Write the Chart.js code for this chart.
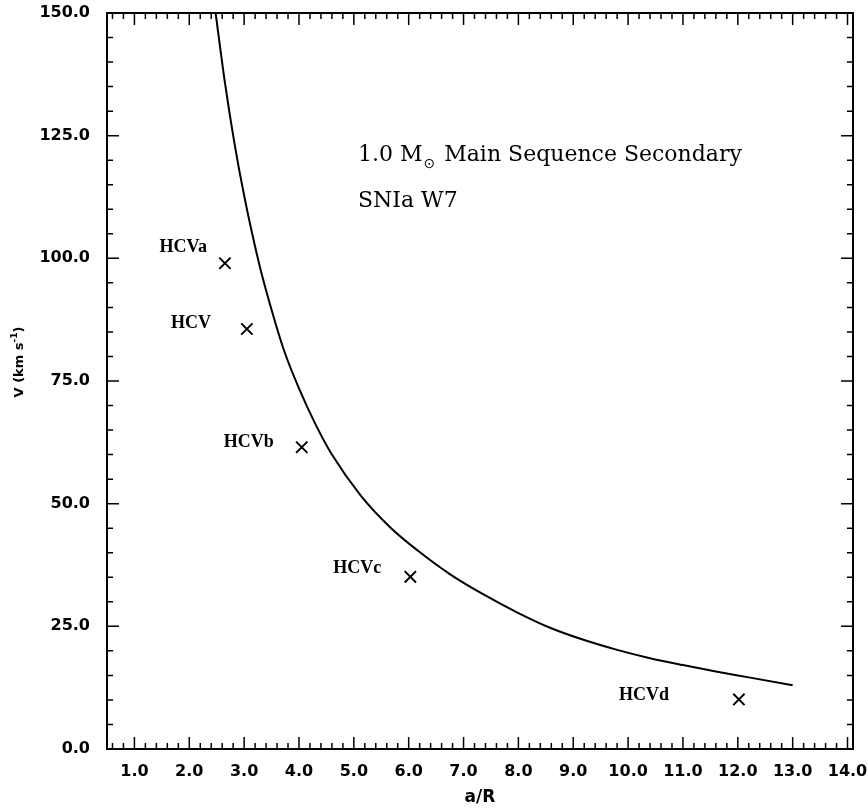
<!DOCTYPE html>
<html>
<head>
<meta charset="utf-8">
<script src="https://cdn.jsdelivr.net/npm/chart.js@4"></script>
<style>
  body { margin: 0; background: #fff; }
  #wrap { width: 868px; height: 808px; }
</style>
</head>
<body>
<div id="wrap"><canvas id="chart" width="868" height="808"></canvas></div>
<script>
// W7 model curve
const curveX = [2.48, 2.65, 2.82, 3.0, 3.28, 3.55, 3.75, 4.0, 4.3, 4.6, 5.13, 5.68, 6.17, 6.77, 7.38, 8.0, 8.6, 9.2, 9.8, 10.4, 11.0, 11.6, 12.2, 13.0];
const curveV = [150, 135.8, 123.7, 112.8, 98.6, 87.6, 80.5, 73.5, 66.2, 60.0, 51.6, 45.0, 40.4, 35.5, 31.4, 27.7, 24.6, 22.2, 20.2, 18.5, 17.1, 15.8, 14.6, 13.0];

// observed high velocity clouds
const hcvNames = ['HCVa', 'HCV', 'HCVb', 'HCVc', 'HCVd'];
const hcvX = [2.65, 3.05, 4.05, 6.03, 12.02];
const hcvV = [99.0, 85.6, 61.5, 35.1, 10.1];

const xTicks = [1, 2, 3, 4, 5, 6, 7, 8, 9, 10, 11, 12, 13, 14];
const yTicks = [0, 25, 50, 75, 100, 125, 150];

// label placement next to each marker (px, right edge of text)
const labelOffsets = [[-18, -16], [-36, -6], [-28, -5], [-29, -8], [-70, -4]];

const tickFont = { family: 'DejaVu Sans', weight: 'bold', size: 16 };

const framePlugin = {
  id: 'frame',
  afterDraw(chart) {
    const ctx = chart.ctx;
    const { left, right, top, bottom } = chart.chartArea;
    const xs = chart.scales.x, ys = chart.scales.y;
    ctx.save();
    ctx.strokeStyle = '#000';

    // inward ticks on all four sides
    ctx.lineWidth = 1.5;
    ctx.beginPath();
    for (let i = 3; i <= 70; i++) {
      const v = i / 5;
      const px = xs.getPixelForValue(v);
      const len = i % 5 === 0 ? 12 : 6;
      ctx.moveTo(px, bottom); ctx.lineTo(px, bottom - len);
      ctx.moveTo(px, top); ctx.lineTo(px, top + len);
    }
    for (let v = 0; v <= 150; v += 5) {
      const py = ys.getPixelForValue(v);
      const len = v % 25 === 0 ? 12 : 6;
      ctx.moveTo(left, py); ctx.lineTo(left + len, py);
      ctx.moveTo(right, py); ctx.lineTo(right - len, py);
    }
    ctx.stroke();

    ctx.lineWidth = 2;
    ctx.strokeRect(left, top, right - left, bottom - top);

    // marker labels
    ctx.fillStyle = '#000';
    ctx.font = 'bold 18px "Liberation Serif"';
    ctx.textAlign = 'right';
    ctx.textBaseline = 'middle';
    const pts = chart.getDatasetMeta(1).data;
    hcvNames.forEach((name, i) => {
      ctx.fillText(name, pts[i].x + labelOffsets[i][0], pts[i].y + labelOffsets[i][1]);
    });

    // annotation
    ctx.textAlign = 'left';
    ctx.font = '22px "DejaVu Serif"';
    let x = 358;
    ctx.fillText('1.0 M', x, 155);
    x += ctx.measureText('1.0 M').width;
    ctx.font = '14px "DejaVu Sans"';
    ctx.fillText('\u2299', x + 1, 164);
    x += ctx.measureText('\u2299').width + 3;
    ctx.font = '22px "DejaVu Serif"';
    ctx.fillText(' Main Sequence Secondary', x, 155);
    ctx.fillText('SNIa W7', 358, 201);

    // axis titles
    ctx.font = 'bold 17px "DejaVu Sans"';
    ctx.textAlign = 'center';
    ctx.fillText('a/R', (left + right) / 2, 798);

    ctx.translate(20, 362);
    ctx.rotate(-Math.PI / 2);
    const main = 'V (km s', sup = '-1', close = ')';
    ctx.font = 'bold 13px "DejaVu Sans"';
    const w1 = ctx.measureText(main).width, w3 = ctx.measureText(close).width;
    ctx.font = 'bold 9px "DejaVu Sans"';
    const w2 = ctx.measureText(sup).width;
    let sx = -(w1 + w2 + w3) / 2;
    ctx.textAlign = 'left';
    ctx.font = 'bold 13px "DejaVu Sans"';
    ctx.fillText(main, sx, 0);
    ctx.font = 'bold 9px "DejaVu Sans"';
    ctx.fillText(sup, sx + w1, -5);
    ctx.font = 'bold 13px "DejaVu Sans"';
    ctx.fillText(close, sx + w1 + w2, 0);
    ctx.restore();
  }
};

new Chart(document.getElementById('chart'), {
  type: 'scatter',
  data: {
    datasets: [
      {
        label: 'W7',
        data: curveX.map((x, i) => ({ x, y: curveV[i] })),
        showLine: true,
        borderColor: '#000',
        borderWidth: 2,
        pointRadius: 0,
        cubicInterpolationMode: 'monotone',
        fill: false
      },
      {
        label: 'HCV',
        data: hcvX.map((x, i) => ({ x, y: hcvV[i] })),
        pointStyle: 'crossRot',
        pointRadius: 8,
        borderColor: '#000',
        borderWidth: 2
      }
    ]
  },
  options: {
    responsive: false,
    animation: false,
    layout: { padding: { top: 13, right: 15, left: 0, bottom: 0 } },
    plugins: { legend: { display: false }, tooltip: { enabled: false } },
    scales: {
      x: {
        type: 'linear',
        min: 0.5,
        max: 14.1,
        afterBuildTicks: s => { s.ticks = xTicks.map(v => ({ value: v })); },
        afterFit: s => { s.height = 59; s.paddingLeft = 0; s.paddingRight = 0; },
        grid: { display: false, drawTicks: false },
        border: { display: false },
        ticks: {
          color: '#000', font: tickFont, padding: 13, maxRotation: 0, autoSkip: false,
          callback: v => v.toFixed(1)
        }
      },
      y: {
        min: 0,
        max: 150,
        afterBuildTicks: s => { s.ticks = yTicks.map(v => ({ value: v })); },
        afterFit: s => { s.width = 107; s.paddingTop = 0; s.paddingBottom = 0; },
        grid: { display: false, drawTicks: false },
        border: { display: false },
        ticks: {
          color: '#000', font: tickFont, padding: 17,
          callback: v => v.toFixed(1)
        }
      }
    }
  },
  plugins: [framePlugin]
});
</script>
</body>
</html>
